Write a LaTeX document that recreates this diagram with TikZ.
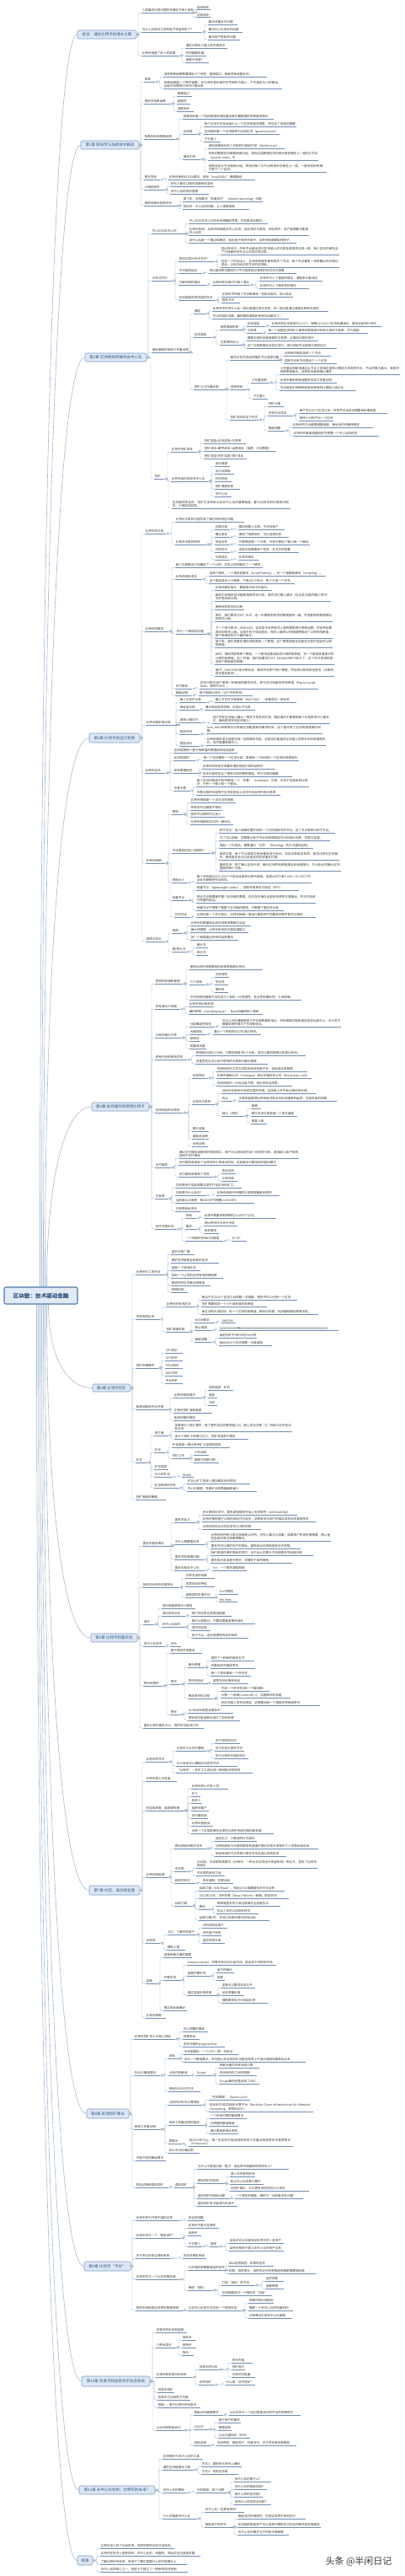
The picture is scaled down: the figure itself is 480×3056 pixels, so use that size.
\documentclass[tikz,border=0pt]{standalone}
\usepackage{fontspec}
\newfontfamily\cjk{Noto Sans CJK SC}
\newfontfamily\cjkbold{Noto Sans CJK SC}[FakeBold=1.2]
\XeTeXlinebreaklocale "zh"
\XeTeXlinebreakskip=0pt plus 0.5pt
\pgfdeclarelayer{bg}
\pgfsetlayers{bg,main}
\definecolor{leafc}{HTML}{3A3A3A}
\definecolor{ulc}{HTML}{6F8DB3}
\definecolor{edgec}{HTML}{A7BBD0}
\definecolor{chapfill}{HTML}{DCE7F4}
\definecolor{chapdraw}{HTML}{7E9DC8}
\definecolor{chaptext}{HTML}{34557F}
\definecolor{rootfill}{HTML}{E1EAF5}
\definecolor{rootdraw}{HTML}{4E78AE}
\tikzset{
 leaf/.style={anchor=south west,inner xsep=0.6pt,inner ysep=0.6pt,font=\cjk\fontsize{3.6}{4.6}\selectfont,text=leafc},
 ul/.style={draw=ulc,line width=0.6pt},
 edge/.style={draw=edgec,line width=0.45pt,rounded corners=2pt},
 redge/.style={draw=edgec,line width=0.6pt},
 knob/.style={draw=edgec!80!black,fill=white,line width=0.3pt},
 chap/.style={draw=chapdraw,fill=chapfill,rounded corners=1.5pt,line width=0.6pt,inner sep=0pt,font=\cjk\fontsize{4.5}{5.5}\selectfont,text=chaptext},
 rootbox/.style={draw=rootdraw,fill=rootfill,rounded corners=2pt,line width=1.1pt,inner sep=0pt,minimum width=87pt,minimum height=20pt,font=\cjkbold\fontsize{6.6}{8}\selectfont,text=chaptext}
}
\makeatletter
\newcommand\addedge[1]{\g@addto@macro\edgelist{#1}}
\makeatother
\newcommand\edgelist{}
\newsavebox\tbox
\newcommand\fitbox[2]{\sbox\tbox{#2}\ifdim\wd\tbox<#1\relax\makebox[#1][l]{\usebox\tbox}\else\usebox\tbox\fi}
\newcommand\mkedge[2]{%
 \addedge{\draw[edge] (#2o) -- (#2o -| #1s) |- (#1.south west);}%
 \draw[ul] (#1.south west) -- (#1.south east);
 \path[knob] ([xshift=1.8pt]#2o) circle (1.2pt);
 \coordinate (#1o) at (#1.south east);}
\newcommand\LL[6]{\pgfmathsetmacro\tw{#5-#3-1.2}%
 \node[leaf] (#1) at (#3,#4) {\fitbox{\tw pt}{#6}};
 \coordinate (#1s) at (#3-4,#4);
 \mkedge{#1}{#2}}
\newcommand\LW[6]{\pgfmathsetmacro\tw{#5-#3-1.2}%
 \node[leaf,text width=\tw pt,align=left] (#1) at (#3,#4) {#6};
 \coordinate (#1s) at (#3-4,#4);
 \mkedge{#1}{#2}}
\newcommand\CH[6]{\pgfmathsetmacro\cw{#3-#2}\pgfmathsetmacro\chh{#5-#4}%
 \node[chap,minimum width=\cw pt,minimum height=\chh pt] (#1) at ({(#2+#3)/2},{(#4+#5)/2}) {#6};
 \coordinate (#1o) at (#1.east);}
\newcommand\RU[4]{\draw[redge] ([xshift=#2pt]root.north west) .. controls +(0,-#3) and +(-#4,0) .. (#1.west);}
\newcommand\RD[4]{\draw[redge] ([xshift=#2pt]root.south west) .. controls +(0,#3) and +(-#4,0) .. (#1.west);}
\begin{document}
\begin{tikzpicture}[x=1pt,y=-1pt]
\useasboundingbox (0,0) rectangle (480,3056);
\node[rootbox] (root) at (48.5,1537) {区块链：技术驱动金融};
% ---------------- 前言
\CH{p0}{92}{162}{36}{46}{前言：通往比特币的漫长之路}
\LL{p1}{p0}{168}{15}{230}{人类解决交易问题的关键在于两个体系}
\LL{p11}{p1}{233}{11.7}{250}{信用体系}
\LL{p12}{p1}{233}{20.7}{250}{记账体系}
\LL{p2}{p0}{168}{38}{240}{为什么比特币之前的电子现金失败了？}
\LL{p21}{p2}{247}{29}{282}{解决双重支付问题}
\LL{p22}{p2}{247}{38}{288}{解决中心化信任的问题}
\LL{p23}{p2}{247}{47}{285}{解决用户隐私的问题}
\LL{p3}{p0}{168}{66}{213}{比特币借鉴了前人的成果}
\LL{p31}{p3}{220}{57}{270}{通往比特币之路上的先驱技术}
\LL{p32}{p3}{220}{66}{245}{时间戳服务器}
\LL{p33}{p3}{220}{74}{248}{谁是中本聪？}
% ---------------- 第1章
\CH{c1}{96}{165}{167}{177}{第1章 密码学与加密技术概述}
\LL{a1}{c1}{171}{97}{184}{哈希}
\LL{a11}{a1}{194}{91}{317}{加密哈希函数需要满足三个特性：碰撞阻力、隐秘性和谜题友好。}
\LW{a12}{a1}{194}{105}{335}{哈希函数是一个数学函数，可以将任意长度的字符串作为输入，产生固定大小的输出，且能在合理的时间内计算出来}
\LL{a2}{c1}{171}{123}{203}{密码学哈希函数}
\LL{a21}{a2}{210}{114}{228}{碰撞阻力}
\LL{a22}{a2}{210}{123}{226}{隐秘性}
\LL{a23}{a2}{210}{132}{230}{谜题友好}
\LL{a3}{c1}{171}{165}{208}{哈希指针和数据结构}
\LL{a31}{a3}{217}{141}{325}{哈希指针是一个指向数据存储位置及其位置数据的哈希值的指针}
\LL{a32}{a3}{217}{159}{234}{区块链}
\LL{a321}{a32}{242}{150}{352}{每个区块不仅告诉我们上一个区块的值在哪里，还包含了该值的摘要}
\LL{a322}{a32}{242}{159}{332}{区块链的第一个区块被称为创世区块（genesis block）}
\LL{a323}{a32}{242}{168}{262}{子主题 1}
\LL{a33}{a3}{217}{189}{238}{梅克尔树}
\LL{a331}{a33}{247}{176}{338}{使用哈希指针的二叉树称为梅克尔树（Merkle tree）。}
\LW{a332}{a33}{247}{190}{378}{所有的数据区块都被两两分组，指向这些数据区块的指针被存储在上一层的父节点（parent node）中}
\LW{a333}{a33}{247}{204}{388}{再把这些父节点两两分组，将指向每个父节点的指针存储在上一层，一直持续到树根，只剩下一个区块。}
\LL{a4}{c1}{171}{213}{190}{数字签名}
\LL{a41}{a4}{200}{213}{303}{比特币使用ECDSA算法，采用“secp256k1”椭圆曲线}
\LL{a5}{c1}{171}{225}{196}{公钥即身份}
\LL{a51}{a5}{202}{221}{252}{任何人都可以随时创建新的身份}
\LL{a52}{a5}{202}{230}{248}{去中心化的身份管理}
\LL{a6}{c1}{171}{244}{212}{两种简单的加密货币}
\LL{a61}{a6}{217}{239}{312}{高飞币：没有解决“双重支付”（double spending）问题}
\LL{a62}{a6}{217}{248}{296}{财奴币：中心化的问题，让人很难接受}
% ---------------- 第2章
\CH{c2}{101}{174}{419}{429}{第2章 区块链如何做到去中心化}
\LL{b1}{c2}{180}{277}{220}{中心化与去中心化}
\LL{b11}{b1}{224}{265}{318}{中心化与去中心化并没有明确的界限，往往是混合模式。}
\LW{b12}{b1}{224}{279}{367}{比特币系统：比特币网络是去中心化的，但比特币交易所、钱包软件、用户管理都可能是中心化的}
\LL{b13}{b1}{224}{288}{352}{去中心化是一个概念和模式，能应用于很多系统中，比特币就是典型的例子。}
\LL{b2}{c2}{180}{333}{205}{分布式共识}
\LL{b21}{b2}{212}{310}{255}{如何达成分布式共识？}
\LW{b211}{b21}{262}{302}{403}{在比特币中，所有节点都必须对区块链上的交易及其顺序达成一致，每个区块中都包含了已经被所有节点认可的交易记录。}
\LW{b212}{b21}{262}{317}{403}{在任一个时间点上，比特币网络中都有很多个节点，每个节点都有一份待确认的交易记录池，以及已经达成共识的区块链。}
\LL{b22}{b2}{212}{324}{240}{不可能性结论}
\LL{b221}{b22}{248}{324}{352}{拜占庭将军问题和FLP不可能性结论表明分布式共识很难}
\LL{b23}{b2}{212}{338}{245}{打破传统的理论}
\LL{b231}{b23}{252}{338}{297}{比特币在实践中打破了理论}
\LL{b2311}{b231}{308}{333}{383}{比特币引入了激励的理念，激励参与者诚实}
\LL{b2312}{b231}{308}{342}{367}{比特币引入了随机性的理念}
\LL{b24}{b2}{212}{356}{256}{区块链是否有持续的共识}
\LL{b241}{b24}{263}{352}{348}{比特币中的每个节点都保存一份账本副本，用以验证}
\LL{b242}{b24}{263}{359}{285}{隐性共识}
\LL{b3}{c2}{180}{418}{225}{使用激励机制和工作量证明}
\LL{b31}{b3}{230}{372}{245}{激励}
\LL{b311}{b31}{252}{369}{390}{比特币中的去中心化一部分是通过技术手段，另一部分是通过激励机制来实现的}
\LL{b312}{b31}{252}{378}{343}{节点的诚实问题，最终都由激励机制来加以解决了。}
\LL{b32}{b3}{230}{400}{252}{区块奖励}
\LL{b321}{b32}{261}{391}{288}{两种激励机制}
\LL{b3211}{b321}{293}{387}{315}{区块奖励}
\LL{b32111}{b3211}{322}{387}{453}{比特币的区块奖励为12.5个，每隔210 000个区块就要减半，直到全部发行完毕}
\LL{b3212}{b321}{293}{395}{312}{交易费}
\LL{b32121}{b3212}{318}{395}{437}{每一个创建区块的矿工都有权获得其中所有交易的交易费，作为奖励}
\LL{b322}{b32}{261}{409}{288}{交易费的设计}
\LL{b3221}{b322}{293}{404}{378}{需要交易的创建者提供交易费，以推动交易的进行}
\LL{b3222}{b322}{293}{413}{400}{这个交易费被包含在区块中，成为其他节点接受交易的动力}
\LL{b33}{b3}{230}{462}{268}{挖矿与工作量证明}
\LL{b331}{b33}{273}{427}{331}{解决分布式系统的随机节点选择问题}
\LL{b3311}{b331}{337}{422}{393}{从网络中随机选取一个节点}
\LL{b3312}{b331}{337}{431}{400}{选择节点来主动提出下一个区块}
\LL{b332}{b33}{273}{462}{293}{选择机制}
\LL{b3321}{b332}{298}{454}{320}{工作量证明}
\LW{b33211}{b3321}{332}{444}{475}{工作量证明是指通过让节点之间相互竞争计算能力来选择节点，节点的算力越大，被选中的概率就越大，这样攻击者就难以操控}
\LL{b33212}{b3321}{332}{454}{400}{比特币使用哈希谜题来实现工作量证明}
\LL{b33213}{b3321}{332}{463}{423}{节点被选中的概率和其所拥有的计算能力成正比}
\LL{b3322}{b332}{300}{473}{318}{子主题 2}
\LL{b333}{b33}{273}{498}{307}{挖矿成本和当下形式}
\LL{b3331}{b333}{318}{482}{337}{挖矿计算}
\LL{b3332}{b333}{318}{493}{348}{可单位化成本}
\LL{b33321}{b3332}{355}{490}{460}{每产生2016个区块之后，所有节点会自动调整目标难度值}
\LL{b33322}{b3332}{355}{499}{395}{保持十分钟产出一个区块}
\LL{b3333}{b333}{318}{511}{338}{难度调整}
\LL{b33331}{b3333}{347}{507}{443}{比特币的节点都要调整难度，使出块时间保持稳定}
\LL{b33332}{b3333}{348}{517}{450}{比特币的难度调整机制不需要一个中心化的机构}
\LL{b4}{c2}{183}{568}{195}{挖矿}
\LL{b41}{b4}{203}{536}{234}{比特币挖矿成本}
\LL{b411}{b41}{242}{526}{292}{挖矿奖励=区块奖励+交易费}
\LL{b412}{b41}{242}{535}{328}{挖矿成本=硬件成本+运营成本（电费、冷却费等）}
\LL{b413}{b41}{242}{544}{293}{挖矿收益=挖矿奖励-挖矿成本}
\LL{b42}{b4}{203}{571}{247}{比特币如何实现去中心化}
\LL{b421}{b42}{255}{553}{273}{身份管理}
\LL{b422}{b42}{255}{562}{278}{点对点网络}
\LL{b423}{b42}{255}{571}{275}{共识机制}
\LL{b424}{b42}{255}{580}{285}{挖矿激励机制}
\LL{b425}{b42}{255}{589}{275}{去中心化}
\LW{b43}{b4}{204}{603}{345}{区块链的安全性、挖矿生态系统以及去中心化的健康程度，都与比特币的价格密切相关，三者相互促进。}
% ---------------- 第3章
\CH{c3}{106}{166}{870}{881}{第3章 比特币的运行机制}
\LL{d1}{c3}{172}{633}{197}{比特币的交易}
\LL{d11}{d1}{208}{619}{290}{比特币交易的过程形成了我们所说的区块链}
\LL{d12}{d1}{208}{646}{245}{比特币交易的特性}
\LL{d121}{d12}{255}{628}{273}{创建交易}
\LL{d1211}{d121}{283}{628}{338}{输出和输入交易，不涉及账户}
\LL{d122}{d12}{255}{637}{273}{确认验证}
\LL{d1221}{d122}{283}{637}{343}{使用了哈希指针，可以追溯历史}
\LL{d123}{d12}{255}{646}{273}{资金合并}
\LL{d1231}{d123}{283}{646}{368}{只需要创建一个交易，交易中使用了输入和一个输出}
\LL{d124}{d12}{255}{655}{273}{共同支付}
\LL{d1241}{d124}{283}{655}{355}{这笔交易需要两个签名：多方共同签署}
\LL{d125}{d12}{255}{664}{273}{交易语法}
\LL{d1251}{d125}{283}{664}{307}{比特币脚本}
\LL{d2}{c3}{172}{749}{200}{比特币的脚本}
\LL{d21}{d2}{208}{673}{312}{每个交易输出不仅确定了一个公钥，实际上同时确定了一个脚本}
\LL{d22}{d2}{208}{687}{240}{比特币脚本语言}
\LL{d221}{d22}{248}{683}{387}{这两个脚本，一个是锁定脚本（scriptPubKey），另一个是解锁脚本（scriptSig）。}
\LL{d222}{d22}{248}{692}{350}{这个脚本语言十分简单，只有256个指令，每个只用一个字节。}
\LL{d23}{d2}{209}{752}{245}{执行一个脚本的过程}
\LL{d231}{d23}{255}{700}{323}{比特币脚本指令：数据指令和工作指令。}
\LW{d232}{d23}{255}{713}{393}{脚本中的每条指令都是按顺序执行的，首先执行输入脚本（包含在交易的输入项中）中的签名和公钥。}
\LL{d233}{d23}{255}{723}{290}{两种检验签名的过程}
\LW{d234}{d23}{255}{737}{395}{首先，我们要执行OP\_DUP，这一步骤是把栈顶的数据复制一遍，并把复制的数据再压到栈顶上面。}
\LW{d235}{d23}{255}{757}{395}{下一个指令是OP\_HASH160，这条指令会将栈顶上面的数据进行哈希运算，然后将结果再压到栈顶上面。当指令执行到这里后，栈顶上面的公钥就被替换成了公钥的哈希值，接下来继续执行下面的指令。}
\LW{d236}{d23}{255}{768}{395}{接下来，我们还要在堆栈顶部再放一个数据，这个数据就是发送者在交易中指定的公钥哈希值。}
\LW{d237}{d23}{255}{788}{397}{此时，堆栈顶部有两个数值，一个是发送者指定的公钥的哈希值，另一个是接收者提交的公钥的哈希值。这个时候，我们就要执行OP\_EQUALVERIFY指令了，这个命令用来检查这两个数值是否相等。}
\LW{d238}{d23}{255}{802}{397}{用OP\_CHECKSIG指令来验证：堆栈中还剩下两个数值，然后用公钥来验证签名（交易的签名是否有效）。}
\LL{d24}{d2}{208}{817}{228}{支付脚本}
\LW{d241}{d24}{237}{817}{378}{实际中很多用户使用一种高级的脚本形式，称为支付到脚本的哈希值（Pay-to-script-hash，简称P2SH）。}
\LL{d25}{d2}{208}{825}{228}{销毁证明}
\LL{d251}{d25}{236}{825}{300}{用于销毁比特币（以产生新的币）}
\LL{d3}{c3}{173}{860}{210}{比特币脚本的应用}
\LL{d31}{d3}{213}{833}{245}{第三方支付交易}
\LL{d311}{d31}{255}{833}{352}{第三方支付交易使用“MULTISIG”（多重签名）来实现}
\LL{d32}{d3}{213}{842}{237}{保证金交易}
\LL{d321}{d32}{243}{842}{303}{通过保证金的机制，实现公平交易}
\LL{d33}{d3}{213}{857}{240}{高效小额支付}
\LW{d331}{d33}{252}{858}{392}{双方先在区块链上确认一笔多方签名的交易，随后通过不断更新链下交易来进行小额支付，最后再发布到区块链上。}
\LL{d34}{d3}{213}{871}{237}{锁定时间}
\LW{d341}{d34}{245}{870}{383}{lock\_time参数表示交易被区块链接受的最早时间，这个值代表了区块高度或者时间戳。}
\LL{d35}{d3}{213}{885}{237}{智能合约}
\LW{d351}{d35}{245}{884}{387}{比特币脚本语言能够实现一些特殊的功能，这类合约能通过区块链上的技术手段来强制执行，而不需要依赖中介。}
\LL{d4}{c3}{172}{917}{196}{比特币区块}
\LL{d41}{d4}{206}{893}{282}{区块链把两个基于哈希值的数据结构结合起来}
\LL{d42}{d4}{206}{902}{232}{区块的结构}
\LL{d421}{d42}{241}{902}{355}{每一个区块都有一个区块头部，里面有一个指向前一个区块的哈希指针}
\LL{d43}{d4}{206}{917}{236}{树状数据结构}
\LL{d431}{d43}{240}{912}{327}{比特币的所有交易都存储在梅克尔树的结构中}
\LL{d432}{d43}{240}{921}{347}{区块头部还包含了梅克尔树的根哈希值，作为交易的摘要}
\LL{d44}{d4}{206}{938}{226}{币基交易}
\LW{d441}{d44}{233}{933}{367}{每个区块的梅克尔树中都有一个“币基”（coinbase）交易，它用于创造新的比特币，只有一个输入和一个输出。}
\LL{d442}{d44}{233}{943}{333}{币基交易的价值等于区块奖励加上区块中包含的所有交易费}
\LL{d5}{c3}{173}{1024}{196}{比特币网络}
\LL{d51}{d5}{204}{966}{217}{概述}
\LL{d511}{d51}{226}{952}{280}{比特币网络是一个点对点的网络}
\LL{d512}{d51}{226}{961}{263}{所有的节点都是平等的}
\LL{d513}{d51}{226}{969}{267}{新的节点随时可以加入}
\LL{d514}{d51}{226}{978}{277}{比特币网络有自己的一套协议}
\LL{d52}{d5}{204}{1012}{250}{节点是如何加入网络的？}
\LL{d521}{d52}{260}{988}{398}{种子节点：加入网络时要先找到一个已在网络中的节点，这个节点被称为种子节点。}
\LL{d522}{d52}{260}{997}{392}{为了加入网络，还需要从种子节点处获得其他节点的地址列表，并建立连接。}
\LL{d523}{d52}{260}{1006}{372}{发起一个交易后，需要通过“泛洪”（flooding）的方式通知全网。}
\LW{d524}{d52}{260}{1020}{403}{接收交易：每个节点收到交易后都会进行验证，包括交易是否有效、是否已经在区块链中、脚本是否合法以及是否存在双重支付等。}
\LW{d525}{d52}{260}{1033}{405}{接收区块：除了确认区块头部，确认区块的哈希值满足目标难度外，节点还必须确认区块里面的每个交易。}
\LL{d53}{d5}{204}{1047}{223}{网络大小}
\LW{d531}{d53}{233}{1047}{370}{每个月有超过200 000个IP地址连接到比特币网络，但是大约只有5 000～10 000个节点会长期保持在线状态。}
\LL{d54}{d5}{204}{1068}{223}{轻量节点}
\LL{d541}{d54}{233}{1056}{355}{轻量节点（lightweight nodes），或称作简单支付验证（SPV）}
\LW{d542}{d54}{233}{1071}{375}{完全节点需要维护整个区块链的数据，在内存中保存全部未花费的交易输出，并对交易进行完整的验证。}
\LL{d543}{d54}{233}{1080}{337}{轻量节点不需要下载整个区块链的数据，只需要下载区块头部}
\LL{d55}{d5}{207}{1088}{226}{共识协议}
\LL{d551}{d55}{233}{1088}{375}{比特币是一个共识协议，比特币网络一直运行着各种不同版本的软件和共识规则}
\LL{d6}{c3}{173}{1117}{196}{局限与优化}
\LL{d61}{d6}{204}{1107}{217}{局限}
\LL{d611}{d61}{226}{1098}{298}{比特币的数量和出块时间等参数都已设定}
\LL{d612}{d61}{226}{1106}{295}{最大的障碍：比特币系统的交易处理能力}
\LL{d613}{d61}{226}{1115}{283}{另一个局限是比特币的加密算法}
\LL{d62}{d6}{204}{1129}{222}{硬/软分叉}
\LL{d621}{d62}{233}{1124}{247}{硬分叉}
\LL{d622}{d62}{233}{1133}{247}{软分叉}
% ---------------- 第4章
\CH{c4}{109}{177}{1308}{1318}{第4章 如何储存和使用比特币}
\LL{e1}{c4}{184}{1167}{217}{密钥的存储和管理}
\LL{e11}{e1}{225}{1150}{312}{使用比特币就需要用到私钥来管理比特币。}
\LL{e12}{e1}{225}{1168}{244}{三个目标}
\LL{e121}{e12}{255}{1159}{272}{可获得性}
\LL{e122}{e12}{255}{1168}{271}{安全性}
\LL{e123}{e12}{255}{1177}{271}{便利性}
\LL{e13}{e1}{225}{1186}{358}{不同的密钥管理方法在这三个目标（可获得性、安全性和便利性）之间权衡。}
\LL{e2}{c4}{184}{1197}{214}{热存储与冷存储}
\LL{e21}{e2}{224}{1194}{253}{比特币地址和私钥}
\LL{e22}{e2}{224}{1203}{312}{编码密钥（encoding keys）：Base58编码和二维码}
\LL{e3}{c4}{184}{1231}{215}{分离存储与共享}
\LL{e31}{e3}{225}{1218}{255}{分层确定性钱包}
\LW{e311}{e31}{263}{1218}{405}{可以让冷存储端使用几乎无限数量的地址，热存储端又能知道这些地址是什么，可以在不暴露私钥的情况下生成新地址。}
\LL{e32}{e3}{225}{1227}{245}{大脑钱包}
\LL{e321}{e32}{253}{1227}{310}{通过一个密码就可以生成比特币。}
\LL{e33}{e3}{225}{1235}{237}{纸钱包}
\LL{e34}{e3}{225}{1244}{243}{防篡改设备}
\LL{e4}{c4}{184}{1257}{222}{密钥分存和密钥共享}
\LL{e41}{e4}{232}{1252}{363}{密钥被分成N个分段，只要获得其中K个分段，就可以重构密钥以恢复比特币。}
\LL{e42}{e4}{232}{1262}{318}{多重签名也可以用于密钥的共享和分散化管理}
\LL{e5}{c4}{184}{1320}{217}{在线钱包和交易所}
\LL{e51}{e5}{228}{1279}{247}{在线钱包}
\LL{e511}{e51}{257}{1271}{365}{在线钱包的工作方式和本地钱包差不多，但由网站来管理}
\LL{e512}{e51}{257}{1279}{370}{比特币基础公司（Coinbase）和区块链信息公司（blockchain.info）}
\LL{e513}{e51}{257}{1288}{347}{在线钱包的一大优点是方便，但也有安全隐患。}
\LL{e52}{e5}{228}{1310}{255}{比特币交易所}
\LL{e521}{e52}{263}{1297}{375}{当你在交易所中完成交易的时候，区块链上并不会记录任何交易。}
\LL{e522}{e52}{263}{1306}{276}{优点}
\LL{e5221}{e522}{283}{1306}{400}{交易所能够把比特币经济和法币的流通联系起来，实现资金的转换}
\LL{e523}{e52}{263}{1324}{290}{缺点（风险）}
\LL{e5231}{e523}{298}{1315}{310}{跑路}
\LL{e5232}{e523}{298}{1324}{353}{银行本身可能就是一个庞氏骗局}
\LL{e5233}{e523}{298}{1333}{317}{黑客入侵}
\LL{e53}{e5}{228}{1342}{248}{银行监管}
\LL{e54}{e5}{228}{1351}{247}{准备金证明}
\LL{e55}{e5}{228}{1360}{247}{负债证明}
\LL{e6}{c4}{184}{1385}{203}{支付服务}
\LW{e61}{e6}{212}{1374}{355}{通过支付服务商提供的网站接口，商户可以轻松地生成一段网页代码，直接嵌入商户的网站用于支付使用}
\LL{e62}{e6}{212}{1382}{323}{支付服务商承担了比特币的汇率波动风险，这就是支付服务商的盈利模式}
\LL{e63}{e6}{212}{1396}{253}{支付服务商承担了风险}
\LL{e631}{e63}{263}{1392}{280}{安全风险}
\LL{e632}{e63}{263}{1401}{282}{汇率风险}
\LL{e7}{c4}{184}{1422}{200}{交易费}
\LL{e71}{e7}{208}{1409}{287}{交易费用于奖励收集交易并打包区块的矿工。}
\LL{e72}{e7}{208}{1418}{245}{交易费为什么存在？}
\LL{e721}{e72}{257}{1418}{332}{比特币网络中传播的交易数据量是有限的}
\LL{e73}{e7}{208}{1427}{302}{当前默认交易费：每1000字节需要0.0001BTC}
\LL{e74}{e7}{208}{1437}{238}{交易费用会变化}
\LL{e8}{c4}{184}{1458}{210}{货币兑换市场}
\LL{e81}{e8}{220}{1445}{234}{供给}
\LL{e811}{e81}{242}{1445}{328}{比特币数量将被限制在2100万个以内。}
\LL{e82}{e8}{220}{1458}{234}{需求}
\LL{e821}{e82}{242}{1454}{282}{将比特币作为支付手段}
\LL{e822}{e82}{242}{1463}{260}{投资需求}
\LL{e83}{e8}{220}{1472}{265}{一个简单的市场行为模型}
\LL{e831}{e83}{275}{1472}{293}{D=T/P}
% ---------------- 第5章
\CH{c5}{110}{155}{1642}{1651}{第5章 比特币挖矿}
\LL{f1}{c5}{161}{1512}{196}{比特币矿工的任务}
\LL{f11}{f1}{203}{1488}{231}{监听交易广播}
\LL{f12}{f1}{203}{1498}{260}{维护区块链和监听新的区块}
\LL{f13}{f1}{203}{1507}{238}{组装一个候选区块}
\LL{f14}{f1}{203}{1516}{265}{找到一个让你的区块有效的随机数}
\LL{f15}{f1}{203}{1525}{250}{希望你的区块被全网接受}
\LL{f16}{f1}{203}{1533}{223}{获得利润}
\LL{f2}{c5}{161}{1565}{190}{寻找有效区块}
\LL{f21}{f2}{197}{1550}{232}{比特币的有效区块}
\LL{f211}{f21}{239}{1542}{353}{每当产生2016个区块之后调整一次难度，保持平均10分钟一个区块}
\LL{f212}{f21}{239}{1550}{317}{挖矿需要找到一个小于目标值的哈希值}
\LL{f213}{f21}{239}{1559}{378}{新区块的头部包括：前一个区块的哈希值、梅克尔树根、时间戳和随机数等字段。}
\LL{f22}{f2}{197}{1580}{225}{挖矿难度机制}
\LL{f221}{f22}{231}{1569}{255}{HASH算法}
\LL{f2211}{f221}{263}{1569}{280}{SHA256}
\LL{f222}{f22}{231}{1578}{252}{默认难度}
\LL{f2221}{f222}{260}{1578}{402}{0x00000000ffff0000000000000000000000000000000000000000000000000000}
\LL{f223}{f22}{231}{1592}{252}{难度调整}
\LL{f2231}{f223}{260}{1587}{305}{目前挖矿平均时间为10分钟}
\LL{f2232}{f223}{260}{1596}{323}{每出2016个区块调整一次难度值}
\LL{f3}{c5}{161}{1623}{188}{挖矿所需硬件}
\LL{f31}{f3}{196}{1605}{217}{CPU挖矿}
\LL{f32}{f3}{196}{1614}{217}{GPU挖矿}
\LL{f33}{f3}{196}{1623}{217}{FPGA挖矿}
\LL{f34}{f3}{196}{1632}{217}{ASIC挖矿}
\LL{f35}{f3}{196}{1641}{217}{专业挖矿}
\LL{f4}{c5}{161}{1672}{200}{能源消耗和生态环境}
\LL{f41}{f4}{206}{1658}{240}{比特币耗能情况}
\LL{f411}{f41}{247}{1649}{277}{内部能源：矿机}
\LL{f412}{f41}{247}{1658}{258}{电能}
\LL{f413}{f41}{247}{1667}{258}{冷却}
\LL{f42}{f4}{206}{1676}{252}{比特币挖矿消耗能源}
\LL{f43}{f4}{206}{1685}{238}{能源的循环使用}
\LL{f5}{c5}{161}{1735}{175}{矿池}
\LL{f51}{f5}{183}{1703}{200}{高方差}
\LW{f511}{f51}{207}{1698}{347}{如果有N个独立事件，每个事件成功的概率是1/N，那么成功次数（X）的统计分布呈泊松分布}
\LL{f512}{f51}{207}{1707}{295}{由于个体矿工的算力过小，挖矿收益很不稳定}
\LL{f52}{f5}{183}{1723}{197}{矿池}
\LL{f521}{f52}{204}{1717}{273}{矿池就是一群比特币矿工组成的团体}
\LL{f522}{f52}{204}{1730}{225}{挖矿工作}
\LL{f5221}{f522}{230}{1726}{248}{工作证明}
\LL{f5222}{f522}{230}{1735}{260}{按提交份额分配}
\LL{f53}{f5}{183}{1743}{200}{矿池类型}
\LL{f54}{f5}{183}{1752}{205}{51\%的矿池}
\LL{f541}{f54}{216}{1752}{230}{Ghash}
\LL{f55}{f5}{183}{1765}{213}{矿池带来的好处}
\LL{f551}{f55}{222}{1760}{297}{矿池让矿工的收入更加稳定和可预测}
\LL{f552}{f55}{222}{1769}{305}{中心化管理，导致矿池的数量越来越少}
\LL{f6}{c5}{161}{1779}{197}{挖矿激励和策略}
% ---------------- 第6章
\CH{c6}{108}{163}{1938}{1948}{第6章 比特币和匿名性}
\LL{g1}{c6}{169}{1834}{203}{匿名的基本概念}
\LL{g11}{g1}{207}{1806}{232}{匿名的定义}
\LL{g111}{g11}{240}{1797}{353}{在计算机科学中，匿名是指假名性加上无关联性（unlinkability）}
\LL{g112}{g11}{240}{1805}{375}{比特币使用基于公钥的地址作为身份，这种身份与用户的真实身份没有直接关系}
\LL{g113}{g11}{240}{1814}{310}{比特币的地址与现实身份之间的关联}
\LL{g12}{g1}{207}{1832}{243}{为什么需要匿名性}
\LW{g121}{g12}{250}{1828}{393}{比特币的所有交易记录都是公开的，任何人都可以查看，如果用户的身份被揭露，那么他的全部交易记录都将曝光。}
\LL{g122}{g12}{250}{1837}{357}{匿名性可以保护用户的隐私，避免商业信息被竞争对手获取。}
\LL{g13}{g1}{207}{1850}{243}{匿名性的道德问题}
\LL{g131}{g13}{250}{1845}{372}{我们希望在保护隐私的同时，也不会让犯罪分子利用匿名性逃避法律}
\LL{g132}{g13}{250}{1854}{347}{匿名技术本身是中性的，关键在于如何使用}
\LL{g14}{g1}{207}{1863}{243}{匿名化和去中心化}
\LL{g141}{g14}{252}{1863}{293}{Tor：一个匿名通信网络}
\LL{g2}{c6}{169}{1883}{213}{如何对比特币去匿名化}
\LL{g21}{g2}{220}{1872}{255}{共享支出的线索}
\LL{g22}{g2}{220}{1882}{255}{找零地址的特征}
\LL{g23}{g2}{220}{1895}{255}{网络层的去匿名化}
\LL{g231}{g23}{260}{1891}{283}{Tor洋葱网}
\LL{g232}{g23}{260}{1900}{282}{Mix Nets}
\LL{g3}{c6}{170}{1927}{183}{混币}
\LL{g31}{g3}{192}{1908}{232}{混币就是使用中介服务}
\LL{g32}{g3}{192}{1917}{220}{混币的专业化}
\LL{g321}{g32}{227}{1917}{275}{用户的交易记录更加隐蔽}
\LL{g33}{g3}{192}{1930}{220}{去中心化混币}
\LL{g331}{g33}{227}{1926}{303}{我们以前提过，不要试图重复使用地址}
\LL{g332}{g33}{227}{1934}{250}{混币的实践}
\LL{g333}{g33}{227}{1943}{295}{迄今为止，还没有理想的混币系统}
\LL{g4}{c6}{170}{1953}{196}{去中心化混币}
\LL{g41}{g4}{202}{1953}{215}{合币}
\LL{g5}{c6}{170}{2000}{193}{零币和零钞}
\LL{g51}{g5}{202}{1961}{240}{基于密码学的匿名}
\LL{g52}{g5}{202}{1998}{214}{零币}
\LL{g521}{g52}{223}{1978}{243}{铸币原理}
\LL{g5211}{g521}{250}{1970}{302}{提供了一种新的铸币方式}
\LL{g5212}{g521}{250}{1979}{303}{将基础币兑换成零币}
\LL{g5213}{g521}{250}{1988}{298}{每一个零币都有一个序列号}
\LL{g522}{g52}{223}{1997}{247}{零币的验证}
\LL{g5221}{g522}{252}{1997}{295}{用零知识证明来验证}
\LL{g523}{g52}{223}{2015}{253}{铸造零币的过程}
\LL{g5231}{g523}{262}{2006}{320}{生成一个序列号S和一个随机数r}
\LL{g5232}{g523}{262}{2014}{345}{计算一个承诺Commit(S, r)，这是铸币的承诺}
\LL{g5233}{g523}{262}{2023}{380}{在区块链上发布该承诺，这需要消耗一个基础币来铸造零币}
\LL{g53}{g5}{202}{2034}{214}{零钞}
\LL{g531}{g53}{223}{2032}{277}{zk-SNARK新型证明技术}
\LL{g532}{g53}{223}{2041}{285}{零钞把交易金额也进行了加密处理}
\LL{g6}{c6}{170}{2050}{242}{匿名比特币服务大众，但同时也是双刃剑}
% ---------------- 第7章
\CH{c7}{106}{166}{2237}{2248}{第7章 社区、政治和监管}
\LL{h1}{c7}{173}{2090}{200}{比特币的共识}
\LL{h11}{h1}{209}{2077}{245}{比特币三大共识基础}
\LL{h111}{h11}{255}{2068}{285}{关于规则的共识}
\LL{h112}{h11}{255}{2077}{290}{关于历史记录的共识}
\LL{h113}{h11}{255}{2086}{295}{关于比特币价值的共识}
\LL{h12}{h1}{209}{2095}{282}{51\%攻击可以撤销对历史的共识}
\LL{h13}{h1}{209}{2103}{300}{“比特币”：在矿工之间达成一致就能改变规则}
\LL{h2}{c7}{173}{2113}{210}{比特币核心开发者}
\LL{h3}{c7}{173}{2148}{218}{利益相关者：谁是掌权者}
\LL{h31}{h3}{227}{2122}{271}{比特币核心开发人员}
\LL{h32}{h3}{227}{2131}{238}{矿工}
\LL{h33}{h3}{227}{2139}{240}{投资人}
\LL{h34}{h3}{227}{2148}{248}{商家和客户}
\LL{h35}{h3}{227}{2157}{247}{支付服务商}
\LL{h36}{h3}{227}{2166}{253}{比特币基金会}
\LL{h37}{h3}{227}{2175}{325}{没有一个实体能够完全掌控比特币系统的规则和发展}
\LL{h4}{c7}{173}{2227}{200}{比特币的起源}
\LL{h41}{h4}{207}{2193}{245}{密码朋克和数字货币}
\LL{h411}{h41}{255}{2184}{305}{自由主义：少数派的行为准则}
\LL{h412}{h41}{255}{2193}{378}{以密码朋克为代表的群体希望通过密码学技术来保护个人的隐私和自由}
\LL{h413}{h41}{255}{2202}{340}{采用传统的方式来发行数字货币总是以失败告终}
\LL{h42}{h4}{207}{2220}{222}{中本聪}
\LW{h421}{h42}{233}{2216}{377}{2008年，中本聪发表题为《比特币：一种点对点的电子现金系统》的论文，宣告了比特币的诞生}
\LL{h422}{h42}{233}{2225}{267}{中本聪的身份之谜}
\LL{h43}{h4}{207}{2234}{232}{政府的关注}
\LL{h431}{h43}{240}{2234}{277}{资本管制，犯罪活动}
\LL{h44}{h4}{207}{2261}{228}{丝绸之路}
\LL{h441}{h44}{236}{2243}{338}{丝绸之路（Silk Road），网站以Tor隐藏服务的方式运作}
\LL{h442}{h44}{236}{2252}{343}{2013年10月，乌布利希（Ross Ulbricht）被捕，网站关闭}
\LL{h443}{h44}{236}{2265}{250}{教训}
\LL{h4431}{h443}{257}{2261}{333}{即使是匿名的工具也很难完全逃避执法}
\LL{h4432}{h443}{257}{2270}{307}{执法人员可以追踪比特币}
\LL{h444}{h44}{236}{2278}{320}{丝绸之路2号：关闭之后新的替代网站出现}
\LL{h5}{c7}{173}{2305}{190}{反洗钱}
\LL{h51}{h5}{199}{2295}{233}{KYC：了解你的客户}
\LL{h511}{h51}{240}{2287}{270}{识别和验证客户}
\LL{h512}{h51}{240}{2296}{263}{评估客户风险}
\LL{h513}{h51}{240}{2305}{267}{监控异常交易}
\LL{h52}{h5}{198}{2313}{220}{强制上报}
\LL{h6}{c7}{173}{2353}{187}{监管}
\LL{h61}{h6}{194}{2322}{226}{监管制度方面的难题}
\LL{h62}{h6}{194}{2349}{215}{柠檬市场}
\LL{h621}{h62}{222}{2331}{328}{lemons market：柠檬市场也叫次品市场，是信息不对称的市场}
\LL{h622}{h62}{222}{2344}{250}{拯救柠檬市场}
\LL{h6221}{h622}{257}{2340}{278}{卖方的保证}
\LL{h6222}{h622}{257}{2349}{267}{信誉}
\LL{h623}{h62}{222}{2367}{258}{通过监管手段修复}
\LL{h6231}{h623}{263}{2358}{303}{监管可以要求信息公开}
\LL{h6232}{h623}{263}{2367}{290}{设定质量标准}
\LL{h6233}{h623}{263}{2376}{318}{强制要求卖方对商品负责}
\LL{h63}{h6}{194}{2385}{222}{事实和反面教训}
\LL{h7}{c7}{173}{2394}{197}{比特币牌照}
% ---------------- 第8章
\CH{c8}{103}{153}{2502}{2513}{第8章 其他挖矿算法}
\LL{i1}{c8}{159}{2419}{208}{比特币挖矿的三大核心特征}
\LL{i11}{i1}{217}{2410}{247}{可以调整的难度}
\LL{i12}{i1}{217}{2419}{237}{快速验证}
\LL{i13}{i1}{217}{2428}{267}{无关过程的progress free}
\LL{i2}{c8}{159}{2462}{190}{抗ASIC解谜算法}
\LL{i21}{i2}{200}{2442}{213}{目标}
\LL{i211}{i21}{218}{2437}{283}{中本聪提到“一个CPU一票”的说法}
\LL{i212}{i21}{218}{2446}{363}{设计一个解谜算法，尽可能让专业的挖矿设备在效率上不会比通用电脑高出太多}
\LL{i22}{i2}{200}{2462}{226}{占用内存解谜}
\LL{i221}{i22}{233}{2462}{252}{Scrypt}
\LL{i2211}{i221}{260}{2453}{308}{依赖大量内存来完成计算}
\LL{i2212}{i221}{260}{2462}{305}{时间和内存之间的权衡}
\LL{i2213}{i221}{260}{2472}{308}{Scrypt最终还是出现了ASIC}
\LL{i23}{i2}{200}{2481}{238}{其他抗ASIC的方法}
\LL{i3}{c8}{159}{2526}{190}{有效工作量证明}
\LL{i31}{i3}{200}{2497}{240}{以前的分布式计算项目}
\LL{i311}{i31}{248}{2491}{297}{“空闲周期”（spare cycle）}
\LW{i312}{i31}{248}{2505}{372}{伯克利开放式网络计算平台（Berkeley Open Infrastructure for Network Computing，简称BOINC）}
\LL{i32}{i3}{200}{2521}{242}{有效工作量证明的挑战}
\LL{i321}{i32}{249}{2513}{293}{一个机会均等的解谜算法}
\LL{i322}{i32}{249}{2522}{283}{可调整的解谜难度}
\LL{i323}{i32}{249}{2531}{283}{通过重用来保证有效}
\LL{i33}{i3}{200}{2543}{216}{质数币}
\LW{i331}{i33}{224}{2546}{348}{到2015年为止，唯一在实际中被证明有效的工作量证明加密货币是质数币（Primecoin）}
\LL{i34}{i3}{200}{2554}{237}{永久币与存储证明}
\LL{i4}{c8}{161}{2563}{197}{不能外包的解谜算法}
\LL{i5}{c8}{161}{2595}{200}{权益证明和虚拟挖矿}
\LL{i51}{i5}{207}{2595}{228}{虚拟挖矿}
\LL{i511}{i51}{234}{2573}{343}{为什么不直接分配“算力”或比特币给最有钱的持币人？}
\LL{i512}{i51}{234}{2590}{267}{虚拟挖矿的优势}
\LL{i5121}{i512}{273}{2582}{302}{减少对环境的影响}
\LL{i5122}{i512}{273}{2591}{313}{防止中心化的算力集中}
\LL{i5123}{i512}{273}{2599}{367}{与挖矿相比，可以更有效地抵抗51\%攻击}
\LL{i513}{i51}{234}{2608}{273}{虚拟挖矿的其他问题}
\LL{i5131}{i513}{279}{2608}{360}{一个潜在的难题，被称为“无利害关系问题”}
\LL{i514}{i51}{234}{2617}{282}{虚拟挖矿有可能成为另类币}
% ---------------- 第9章
\CH{c9}{100}{155}{2683}{2694}{第9章 比特币“平台”}
\LL{j1}{c9}{161}{2634}{212}{比特币作为只增不减的记录}
\LL{j11}{j1}{223}{2634}{243}{安全时间戳}
\LL{j2}{c9}{161}{2655}{215}{比特币作为一个“智能资产”}
\LL{j21}{j2}{223}{2643}{260}{比特币不是可互换的}
\LL{j22}{j2}{223}{2652}{239}{染色币}
\LL{j23}{j2}{223}{2665}{240}{子主题 1}
\LL{j231}{j23}{249}{2665}{260}{用途}
\LL{j2311}{j231}{272}{2661}{337}{染色币可以代表现实世界中的一些资产}
\LL{j2312}{j231}{272}{2670}{337}{染色币有助于建立去中心化的资产交易}
\LL{j3}{c9}{161}{2679}{203}{多方参与的安全博彩系统}
\LL{j31}{j3}{217}{2679}{245}{去信任博彩系统}
\LL{j4}{c9}{161}{2704}{213}{比特币作为一个公正的随机源}
\LL{j41}{j4}{223}{2693}{266}{公共随机源需要满足的条件}
\LL{j411}{j41}{271}{2688}{325}{NBA选秀抽签、彩票的选号}
\LL{j412}{j41}{271}{2697}{375}{彩票、选举审计、加密协议中的参数选择等都需要随机源}
\LL{j42}{j4}{223}{2717}{253}{使用“信标”}
\LL{j421}{j42}{263}{2711}{303}{打造“信标”的方法}
\LL{j4211}{j421}{315}{2706}{337}{自然现象}
\LL{j4212}{j421}{315}{2715}{337}{金融数据}
\LL{j422}{j42}{263}{2723}{323}{区块链能成为一个随机的“信标”}
\LL{j5}{c9}{161}{2741}{218}{预测市场和真实世界的数据馈源}
\LL{j51}{j5}{223}{2741}{287}{以去中心化的方式实现一个预测市场}
\LL{j511}{j51}{295}{2732}{325}{将事件拆分成股份}
\LL{j512}{j51}{295}{2741}{348}{需要一个去中心化的仲裁机构}
\LL{j513}{j51}{295}{2750}{347}{订单簿也实现去中心化管理}
% ---------------- 第10章
\CH{c10}{97}{178}{2819}{2831}{第10章 另类币和加密货币生态系统}
\LL{k1}{c10}{185}{2767}{222}{另类币的历史和起源}
\LL{k2}{c10}{185}{2785}{209}{几种另类币}
\LL{k21}{k2}{216}{2776}{233}{域名币}
\LL{k22}{k2}{216}{2785}{233}{莱特币}
\LL{k23}{k2}{216}{2794}{230}{狗币}
\LL{k3}{c10}{185}{2820}{229}{比特币和另类币的关系}
\LL{k31}{k3}{236}{2811}{260}{另类币的比较}
\LL{k311}{k31}{275}{2803}{300}{货币市值}
\LL{k312}{k31}{275}{2811}{290}{挖矿能力}
\LL{k313}{k31}{275}{2820}{303}{已有的交易量}
\LL{k32}{k3}{236}{2829}{255}{合并挖矿}
\LL{k321}{k32}{268}{2829}{303}{什么是“合并挖矿”}
\LL{k4}{c10}{187}{2838}{205}{另类币挖矿}
\LL{k5}{c10}{187}{2847}{226}{另类币之间的原子交换}
\LL{k6}{c10}{187}{2856}{238}{侧链——基于比特币的另类币}
\LL{k7}{c10}{185}{2883}{218}{以太坊和智能合约}
\LL{k71}{k7}{230}{2865}{265}{智能合约编程模式}
\LL{k711}{k71}{272}{2865}{357}{以太坊作为一个运行智能合约的平台的简单例子}
\LL{k72}{k7}{230}{2882}{248}{以太坊}
\LL{k721}{k72}{259}{2874}{284}{基于账户的模式}
\LL{k722}{k72}{259}{2883}{272}{数据结构}
\LL{k723}{k72}{259}{2892}{297}{以太坊虚拟机（EVM）}
\LL{k73}{k7}{230}{2901}{250}{其他应用}
\LL{k731}{k73}{257}{2901}{352}{市场预测、智能资产、托管支付、多方签名等各种服务}
% ---------------- 第11章
\CH{c11}{94}{184}{2949}{2959}{第11章 去中心化机构：比特币的未来？}
\LL{l1}{c11}{193}{2917}{241}{区块链作为去中心化的工具}
\LL{l2}{c11}{193}{2930}{230}{通往区块链整合之路}
\LL{l21}{l2}{239}{2926}{287}{方法1：直接在比特币上编码}
\LL{l22}{l2}{239}{2935}{283}{方法2：另类区块链}
\LL{l3}{c11}{193}{2957}{222}{去中心化的模板}
\LL{l31}{l3}{233}{2957}{270}{分析框架：四个问题}
\LL{l311}{l31}{278}{2944}{322}{去中心化的是什么？}
\LL{l312}{l31}{278}{2953}{317}{去中心化的程度如何？}
\LL{l313}{l31}{278}{2962}{312}{用什么样的区块链？}
\LL{l314}{l31}{278}{2971}{322}{采用什么样的安全机制？}
\LL{l4}{c11}{193}{2988}{234}{什么时候是去中心化}
\LL{l41}{l4}{243}{2980}{290}{去中心化一定更有效吗？}
\LL{l42}{l4}{243}{2998}{277}{智能资产的时代}
\LL{l421}{l42}{282}{2988}{363}{智能合约的局限性，在现实世界中如何执行}
\LL{l422}{l42}{282}{2998}{380}{区块链的智能资产可以用来代替现实中的合同和资金托管服务}
\LL{l423}{l42}{282}{3007}{343}{去中心化的模式与产权和法律保障}
% ---------------- 结语
\CH{c12}{92}{110}{3032}{3043}{结语}
\LL{m1}{c12}{119}{3023}{202}{比特币深入到了社会各界，相关的研究也在日益增多。}
\LL{m2}{c12}{119}{3032}{238}{比特币在技术上是有效的、去中心化的、有趣的，而且正在迅速地发展}
\LL{m3}{c12}{119}{3042}{222}{了解比特币的未来，有助于了解它能做什么和不能做什么}
\LL{m4}{c12}{119}{3051}{223}{去中心化的核心之一，就在于它建立了一种新的信任机制}
\node[font=\cjk\fontsize{11}{13}\selectfont,text=black!78] (wm) at (426,3039) {头条 @半闲日记};
% ---------------- connectors (background layer, one block)
\begin{pgfonlayer}{bg}
\fill[white] (0,0) rectangle (480,3056);
\edgelist
\RU{p0}{43}{817}{29}
\RU{c1}{45}{745}{30}
\RU{c2}{47}{607}{32}
\RU{c3}{49}{358}{34}
\RU{c4}{51}{118}{34}
\RD{c5}{53}{55}{34}
\RD{c6}{51}{218}{34}
\RD{c7}{49}{382}{34}
\RD{c8}{47}{528}{33}
\RD{c9}{45}{628}{33}
\RD{c10}{43}{703}{32}
\RD{c11}{41}{774}{31}
\RD{c12}{39}{820}{31}
\end{pgfonlayer}
\end{tikzpicture}
\end{document}
